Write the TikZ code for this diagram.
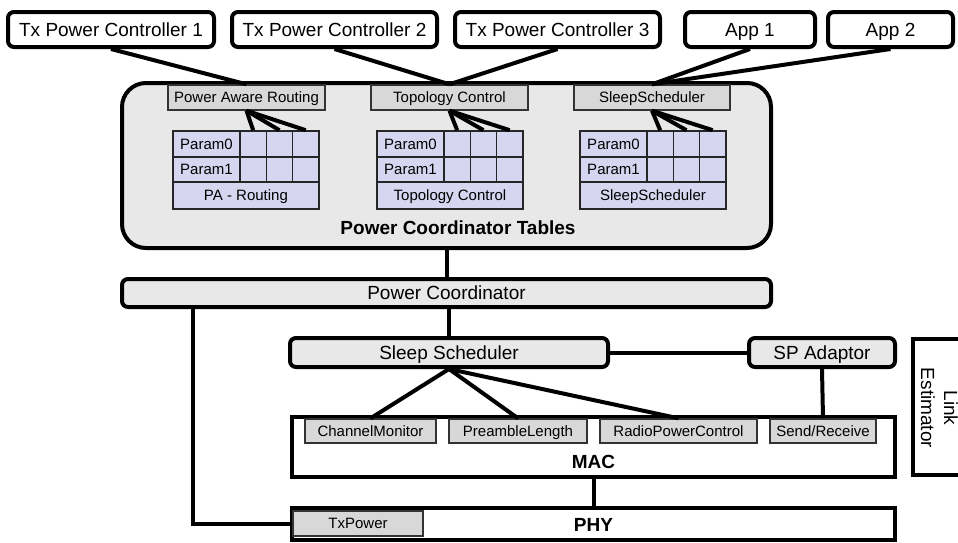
\documentclass[tikz,border=0pt]{standalone}
\usepackage{fontspec}
\setmainfont{Liberation Sans}
\definecolor{biggray}{RGB}{232,232,232}
\definecolor{subgray}{RGB}{216,216,216}
\definecolor{lav}{RGB}{214,214,240}
\begin{document}
\begin{tikzpicture}[x=1pt,y=-1pt,
  bigfont/.style={font=\fontsize{19}{23}\selectfont, text height=13.7pt, text depth=0pt},
  smallfont/.style={font=\fontsize{15}{18}\selectfont, text height=10.8pt, text depth=0pt},
  topbox/.style={draw, line width=4pt, rounded corners=6pt, fill=white, inner sep=0pt, bigfont},
  barbox/.style={draw, line width=4pt, rounded corners=6pt, fill=biggray, inner sep=0pt, bigfont},
  layerbox/.style={draw, line width=4pt, fill=white, inner sep=0pt},
  subbox/.style={draw=black!80, line width=1.4pt, fill=subgray, inner sep=0pt, smallfont},
  cellbox/.style={draw=black!85, line width=1.6pt, fill=lav, inner sep=0pt, smallfont},
  conn/.style={line width=4pt},
  boldlabel/.style={font=\fontsize{19}{23}\selectfont\bfseries, text height=13.7pt, text depth=0pt, inner sep=0pt}]
\useasboundingbox (0,0) rectangle (958,542);

% Top boxes
\node[topbox, minimum width=206pt, minimum height=35pt] (tp1) at (111,29.5) {Tx Power Controller 1};
\node[topbox, minimum width=205pt, minimum height=35pt] (tp2) at (334.5,29.5) {Tx Power Controller 2};
\node[topbox, minimum width=205pt, minimum height=35pt] (tp3) at (557.5,29.5) {Tx Power Controller 3};
\node[topbox, minimum width=130pt, minimum height=35pt] (app1) at (750,29.5) {App 1};
\node[topbox, minimum width=125pt, minimum height=35pt] (app2) at (890.5,29.5) {App 2};

% Power Coordinator Tables
\node[draw, line width=4pt, rounded corners=24pt, fill=biggray, minimum width=649pt, minimum height=165pt, inner sep=0pt] (pct) at (446.5,165.5) {};
\node[subbox, minimum width=157pt, minimum height=25pt] (pa-h) at (246.5,97.5) {Power Aware Routing};
\node[subbox, minimum width=157pt, minimum height=25pt] (tc-h) at (449.5,97.5) {Topology Control};
\node[subbox, minimum width=156pt, minimum height=25pt] (ss-h) at (652,97.5) {SleepScheduler};

\foreach \t/\L/\lab in {pa/173/PA - Routing, tc/377/Topology Control, ss/580/SleepScheduler}{
  \node[cellbox, minimum width=67pt, minimum height=26pt] (\t-p0) at (\L+33.5,144) {Param0};
  \node[cellbox, minimum width=67pt, minimum height=25pt] (\t-p1) at (\L+33.5,169.5) {Param1};
  \foreach \c in {1,2,3}{
    \node[cellbox, minimum width=26.3pt, minimum height=26pt] (\t-v\c) at (\L+67+26.3*\c-13.15,144) {};
    \node[cellbox, minimum width=26.3pt, minimum height=25pt] (\t-w\c) at (\L+67+26.3*\c-13.15,169.5) {};
    \draw[conn] (\t-v\c.north) -- (\t-h.south);
  }
  \node[cellbox, minimum width=145.9pt, minimum height=27pt] (\t-b) at (\L+72.95,195.5) {\lab};
}
\node[boldlabel] (pctl) at (458,228) {Power Coordinator Tables};

\draw[conn] (tp1.south) -- (pa-h.north);
\draw[conn] (tp2.south) -- (tc-h.north);
\draw[conn] (tp3.south) -- (tc-h.north);
\draw[conn] (app1.south) -- (ss-h.north);
\draw[conn] (app2.south) -- (ss-h.north);

% Power Coordinator
\node[barbox, minimum width=649pt, minimum height=28pt] (pc) at (446.5,293) {Power Coordinator};
\draw[conn] (pct.south) -- (pc.north);

% Sleep Scheduler and SP Adaptor
\node[barbox, minimum width=318pt, minimum height=29pt] (sls) at (449,352.5) {Sleep Scheduler};
\node[barbox, minimum width=146pt, minimum height=29pt] (spa) at (822,352.5) {SP Adaptor};
\draw[conn] (pc.south -| sls.north) -- (sls.north);
\draw[conn] (sls.east) -- (spa.west);

% MAC
\node[layerbox, minimum width=603pt, minimum height=60pt] (mac) at (593.5,447) {};
\node[subbox, minimum width=131pt, minimum height=24pt] (cm) at (370.5,431) {ChannelMonitor};
\node[subbox, minimum width=138pt, minimum height=24pt] (pl) at (518,431) {PreambleLength};
\node[subbox, minimum width=157pt, minimum height=24pt] (rpc) at (678.5,431) {RadioPowerControl};
\node[subbox, minimum width=106pt, minimum height=24pt] (sr) at (823,431) {Send/Receive};
\node[boldlabel] (macl) at (593.5,462) {MAC};
\draw[conn] (sls.south) -- (cm.north);
\draw[conn] (sls.south) -- (pl.north);
\draw[conn] (sls.south) -- (rpc.north);
\draw[conn] (spa.south) -- (sr.north);

% PHY
\node[layerbox, minimum width=603pt, minimum height=32pt] (phy) at (593.5,524) {};
\node[subbox, minimum width=130pt, minimum height=25pt] (txp) at (358,523.5) {TxPower};
\node[boldlabel] (phyl) at (593.5,525) {PHY};
\draw[conn] (mac.south) -- (phy.north);
\coordinate (lx) at (193,0);
\draw[conn] (pc.south -| lx) |- (phy.west);

% Link Estimator
\draw[line width=4pt] (975,339) -- (913,339) -- (913,475) -- (975,475);
\node[font=\fontsize{19}{23}\selectfont, rotate=-90, align=center, inner sep=0pt] (le) at (939.5,408) {Link\\Estimator};
\end{tikzpicture}
\end{document}
